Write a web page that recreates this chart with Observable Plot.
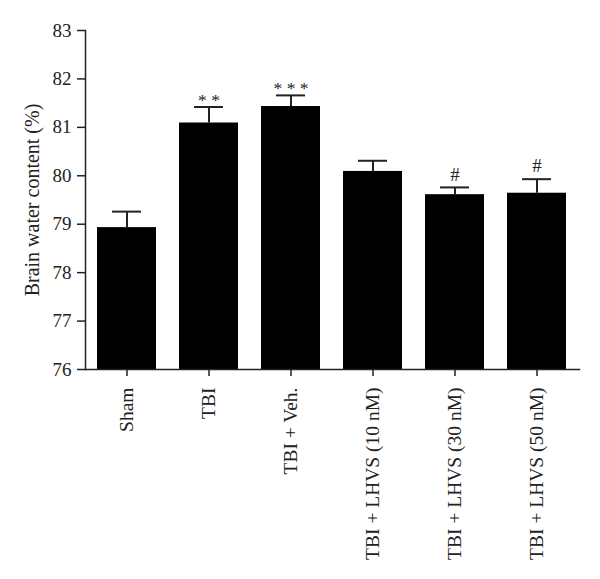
<!DOCTYPE html>
<html>
<head>
<meta charset="utf-8">
<script src="https://cdn.jsdelivr.net/npm/d3@7"></script>
<script src="https://cdn.jsdelivr.net/npm/@observablehq/plot@0.6"></script>
<style>
  html, body { margin: 0; padding: 0; background: #fff; }
  svg { display: block; }
</style>
</head>
<body>
<div id="chart"></div>
<script>
const groups = ["Sham", "TBI", "TBI + Veh.", "TBI + LHVS (10 nM)", "TBI + LHVS (30 nM)", "TBI + LHVS (50 nM)"];
const means = [78.93, 81.09, 81.43, 80.09, 79.61, 79.64];
const errors = [0.33, 0.33, 0.23, 0.22, 0.15, 0.29];
const marks = ["", "**", "***", "", "#", "#"];
const yTicks = [76, 77, 78, 79, 80, 81, 82, 83];
const yLabel = "Brain water content (%)";
const baseline = 76;

const data = groups.map((g, i) => ({group: g, mean: means[i], top: means[i] + errors[i], mark: marks[i]}));
const stars = data.filter(d => d.mark.startsWith("*"));
const hashes = data.filter(d => d.mark.startsWith("#"));

const chart = Plot.plot({
  width: 600,
  height: 579,
  marginTop: 30,
  marginBottom: 210,
  marginLeft: 85,
  marginRight: 21,
  style: {fontFamily: "'Liberation Serif', 'Times New Roman', serif", fontSize: "19px", color: "#222"},
  x: {domain: groups, paddingInner: 0.28, paddingOuter: 0.145, label: null},
  y: {domain: [76, 83], label: null},
  marks: [
    Plot.barY(data, {x: "group", y1: baseline, y2: "mean", fill: "black"}),
    Plot.ruleX(data, {x: "group", y1: "mean", y2: "top", stroke: "#222", strokeWidth: 2}),
    Plot.tickY(data, {x: "group", y: "top", stroke: "#222", strokeWidth: 2, insetLeft: 15, insetRight: 15}),
    Plot.text(stars, {x: "group", y: "top", text: d => d.mark.split("").join(" "), dy: -7, fontSize: 17.5, fill: "#222"}),
    Plot.text(hashes, {x: "group", y: "top", text: "mark", dy: -13, fontSize: 19, fill: "#222"}),
    Plot.frame({anchor: "left", stroke: "#222", strokeWidth: 1.5}),
    Plot.frame({anchor: "bottom", stroke: "#222", strokeWidth: 1.5}),
    Plot.axisY({ticks: yTicks, tickSize: 8, tickPadding: 6, tickFormat: d => String(d), fontSize: 19, stroke: "#222", strokeWidth: 1.5, label: null}),
    Plot.axisX({tickSize: 7, tickRotate: -90, tickPadding: 11, fontSize: 19.5, stroke: "#222", strokeWidth: 1.5, label: null}),
    Plot.text([yLabel], {frameAnchor: "left", textAnchor: "middle", rotate: -90, dx: -53, fontSize: 20, fill: "#222"})
  ]
});
document.getElementById("chart").appendChild(chart);
</script>
</body>
</html>
